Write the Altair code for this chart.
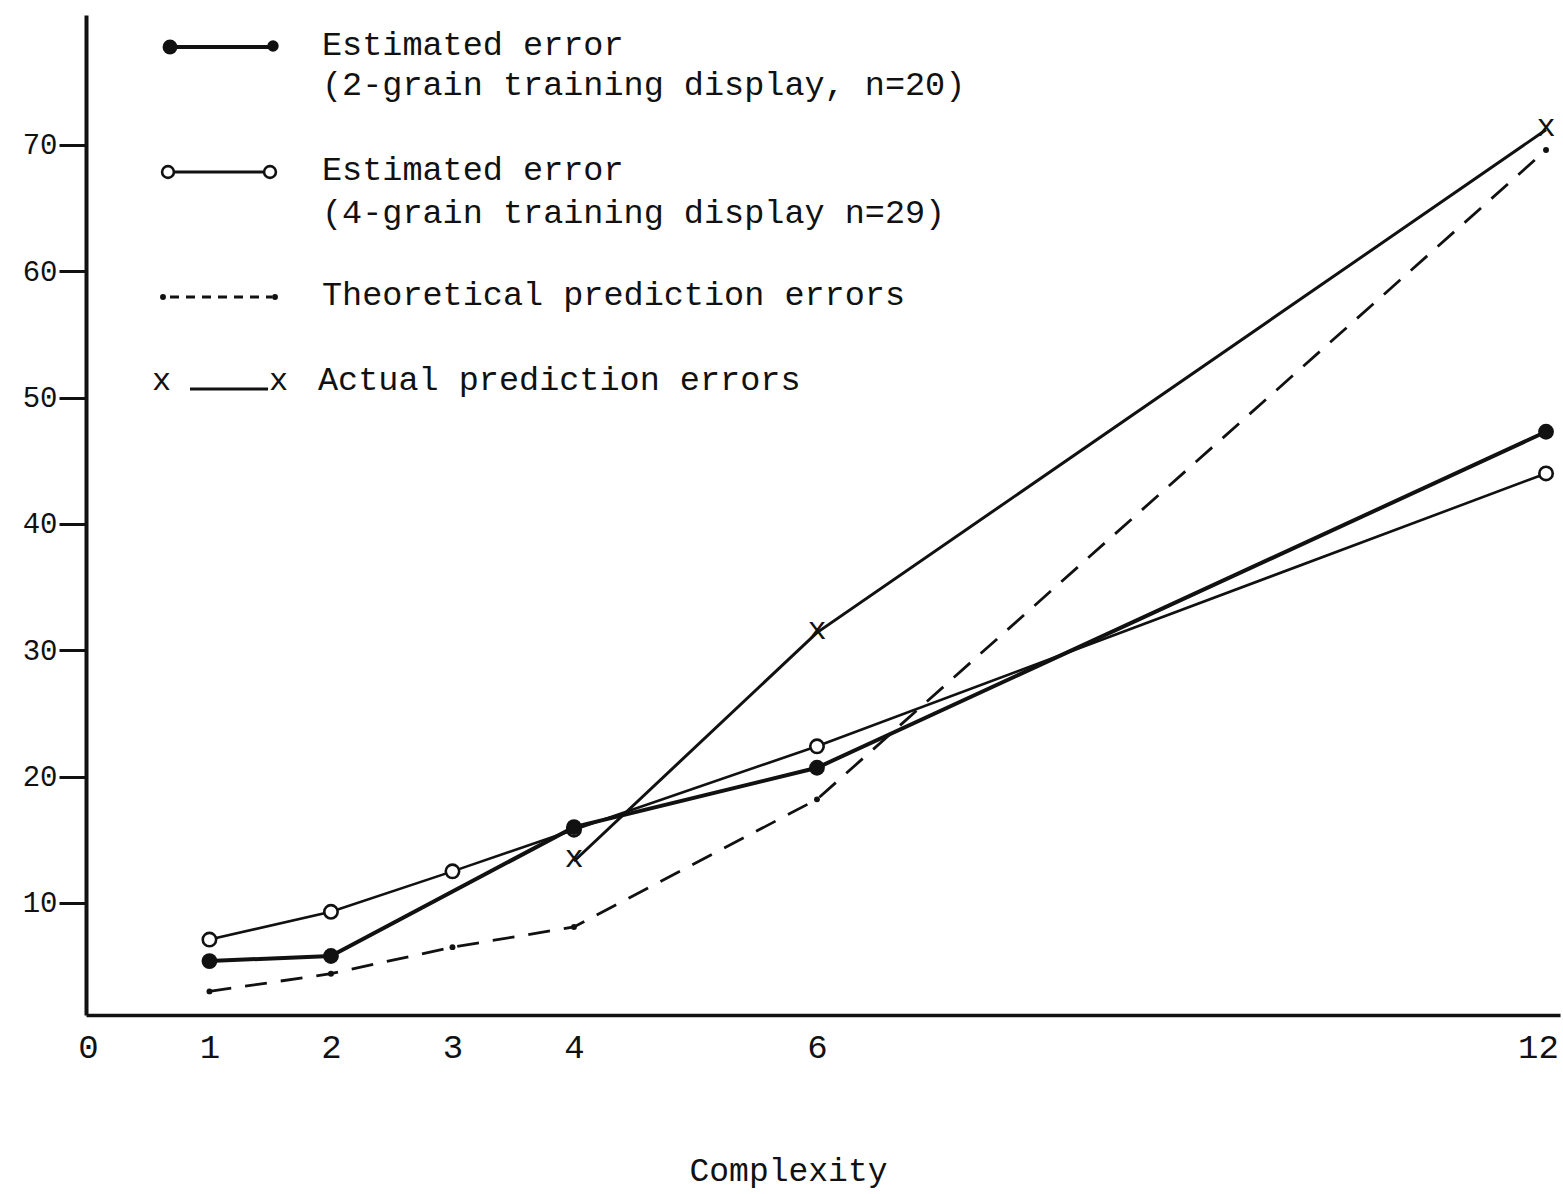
import altair as alt
import pandas as pd

# ---- data ----
complexity_2grain = [1, 2, 4, 6, 12]
error_2grain = [5.4, 5.8, 16.0, 20.7, 47.3]

complexity_4grain = [1, 2, 3, 4, 6, 12]
error_4grain = [7.1, 9.3, 12.5, 15.8, 22.4, 44.0]

complexity_theory = [1, 2, 3, 4, 6, 12]
error_theory = [3.0, 4.4, 6.5, 8.1, 18.2, 69.6]

complexity_actual = [4, 6, 12]
error_actual = [13.3, 31.4, 71.2]

x_ticks = [0, 1, 2, 3, 4, 6, 12]
y_ticks = [10, 20, 30, 40, 50, 60, 70]

legend_2grain = ["Estimated error", "(2-grain training display, n=20)"]
legend_4grain = ["Estimated error", "(4-grain training display n=29)"]
legend_theory = "Theoretical prediction errors"
legend_actual = "Actual prediction errors"
x_title = "Complexity"

# ---- build table ----
rows = []
for s, xs, ys in [("2grain", complexity_2grain, error_2grain),
                  ("4grain", complexity_4grain, error_4grain),
                  ("theory", complexity_theory, error_theory),
                  ("actual", complexity_actual, error_actual)]:
    for a, b in zip(xs, ys):
        rows.append({"series": s, "complexity": a, "error": b})
df = pd.DataFrame(rows)
dummy = pd.DataFrame({"k": [0]})

FONT = "Liberation Mono"
INK = "#111111"

x_scale = alt.Scale(domain=[-0.016, 12.115], nice=False, zero=False)
y_scale = alt.Scale(domain=[1.13, 80.29], nice=False, zero=False)

x_axis = alt.Axis(values=x_ticks, title=x_title, grid=False, ticks=False,
                  domainWidth=3.5, domainColor=INK, labelFont=FONT,
                  labelFontSize=34, labelColor=INK, labelPadding=15,
                  labelFlush=False,
                  labelOffset={"expr": "datum.value == 12 ? -8 : 0"},
                  titleFont=FONT, titleFontSize=33, titleX=702, titleAlign="center",
                  titleFontWeight="normal", titleColor=INK, titlePadding=90)
y_axis = alt.Axis(values=y_ticks, title=None, grid=False, tickSize=27,
                  tickWidth=3, tickColor=INK, domainWidth=4, domainColor=INK,
                  labelFont=FONT, labelFontSize=29, labelPadding=2,
                  labelColor=INK)

base = alt.Chart(df).encode(
    x=alt.X("complexity:Q", scale=x_scale, axis=x_axis),
    y=alt.Y("error:Q", scale=y_scale, axis=y_axis),
)

def series(name):
    return base.transform_filter(alt.datum.series == name)

line_theory = series("theory").mark_line(color=INK, strokeWidth=2.8, strokeDash=[22, 14])
dots_theory = series("theory").mark_point(shape="circle", filled=True, size=35, color=INK, opacity=1)
line_4 = series("4grain").mark_line(color=INK, strokeWidth=2.6)
pts_4 = series("4grain").mark_point(shape="circle", filled=True, size=180, color="white",
                                    stroke=INK, strokeWidth=2.6, opacity=1)
line_2 = series("2grain").mark_line(color=INK, strokeWidth=4)
pts_2 = series("2grain").mark_point(shape="circle", filled=True, size=250, color=INK, opacity=1)
line_act = series("actual").mark_line(color=INK, strokeWidth=3)
pts_act = series("actual").mark_text(text="x", font=FONT, fontSize=32, color=INK,
                                     baseline="middle", dy=-4)

# ---- hand-made legend (pixel positions inside the plot area) ----
def vtext(txt, x, y, size=33.5):
    return alt.Chart(dummy).mark_text(text=txt, font=FONT, fontSize=size, align="left",
                                      baseline="middle", color=INK).encode(
        x=alt.value(x), y=alt.value(y))

def vrule(x1, x2, y, width, dash=None):
    kw = {"strokeDash": dash} if dash else {}
    return alt.Chart(dummy).mark_rule(strokeWidth=width, color=INK, **kw).encode(
        x=alt.value(x1), x2=alt.value(x2), y=alt.value(y))

def vpoint(x, y, size, filled):
    if filled:
        m = alt.Chart(dummy).mark_point(shape="circle", filled=True, size=size, color=INK, opacity=1)
    else:
        m = alt.Chart(dummy).mark_point(shape="circle", filled=True, size=size, color="white",
                                        stroke=INK, strokeWidth=2.6, opacity=1)
    return m.encode(x=alt.value(x), y=alt.value(y))

legend = [
    vrule(84, 186, 32, 4), vpoint(84, 32, 220, True), vpoint(187, 31, 130, True),
    vtext(legend_2grain[0], 236, 30), vtext(legend_2grain[1], 236, 70),
    vrule(84, 182, 157, 3), vpoint(82, 157, 140, False), vpoint(184, 157, 140, False),
    vtext(legend_4grain[0], 236, 155), vtext(legend_4grain[1], 236, 198),
    vrule(84, 186, 282, 3, [9, 7]), vpoint(77, 282, 35, True), vpoint(189, 282, 35, True),
    vtext(legend_theory, 236, 280),
    vrule(104, 182, 374, 2.8),
    vtext("x", 66, 365, 32), vtext("x", 183, 365, 32),
    vtext(legend_actual, 232, 365),
]

chart = alt.layer(
    line_theory, dots_theory, line_4, pts_4, line_2, pts_2, line_act, pts_act, *legend
).properties(
    width=1474, height=1000,
    padding={"left": 86, "top": 15, "right": 3, "bottom": 179},
    autosize=alt.AutoSizeParams(type="none"),
    background="white",
).configure_view(stroke=None)

chart.save("out.html", embed_options={"renderer": "svg", "actions": False})
